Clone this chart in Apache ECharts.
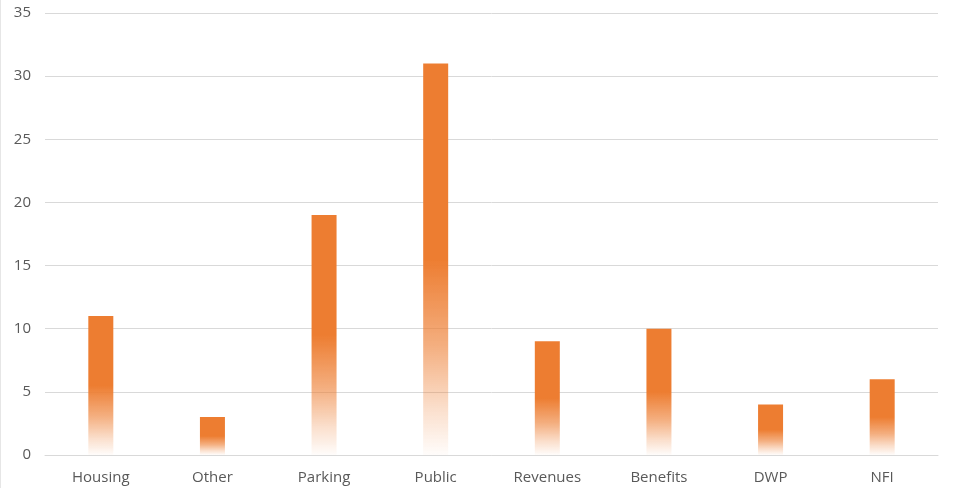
<!DOCTYPE html>
<html>
<head>
<meta charset="utf-8">
<script src="https://cdn.jsdelivr.net/npm/echarts@6/dist/echarts.min.js"></script>
<style>
  html, body { margin: 0; padding: 0; background: #fff; }
  #chart { width: 955px; height: 488px; border-left: 1px solid #e6e6e6; box-sizing: border-box; }
</style>
</head>
<body>
<div id="chart"></div>
<script>
const categories = ['Housing', 'Other', 'Parking', 'Public', 'Revenues', 'Benefits', 'DWP', 'NFI'];
const values = [11, 3, 19, 31, 9, 10, 4, 6];
const yTicks = { min: 0, max: 35, interval: 5 };

const orange = 'rgba(237,125,49,';
const fill = new echarts.graphic.LinearGradient(0, 0, 0, 1, [
  { offset: 0, color: orange + '1)' },
  { offset: 0.5, color: orange + '1)' },
  { offset: 0.72, color: orange + '0.62)' },
  { offset: 0.88, color: orange + '0.25)' },
  { offset: 1, color: orange + '0.02)' }
]);

const chart = echarts.init(document.getElementById('chart'));
chart.setOption({
  animation: false,
  grid: { left: 44, right: 17, top: 13, bottom: 33 },
  xAxis: {
    type: 'category',
    data: categories,
    axisLine: { lineStyle: { color: '#d9d9d9', width: 1 } },
    axisTick: { show: false },
    axisLabel: { color: '#595959', fontSize: 15, fontFamily: 'Open Sans', margin: 15 }
  },
  yAxis: {
    type: 'value',
    min: yTicks.min,
    max: yTicks.max,
    interval: yTicks.interval,
    axisLine: { show: false },
    axisTick: { show: false },
    splitLine: { lineStyle: { color: '#d9d9d9', width: 1 } },
    axisLabel: { color: '#595959', fontSize: 15, fontFamily: 'Open Sans', margin: 14 }
  },
  series: [{
    type: 'bar',
    data: values,
    barWidth: 25,
    itemStyle: { color: fill }
  }]
});
</script>
</body>
</html>
